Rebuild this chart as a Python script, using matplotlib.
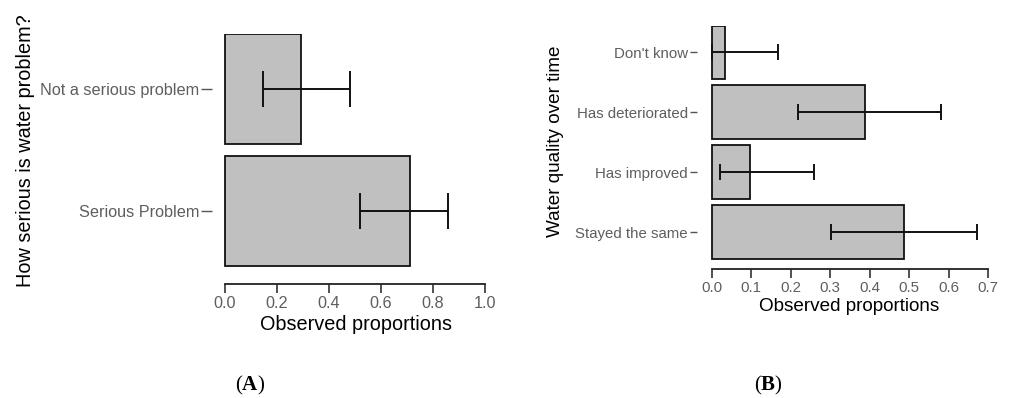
import matplotlib
matplotlib.use("Agg")
import matplotlib.pyplot as plt
import numpy as np

plt.rcParams['font.family'] = ['Liberation Sans', 'DejaVu Sans']
plt.rcParams['mathtext.fontset'] = 'custom'
plt.rcParams['mathtext.rm'] = 'Liberation Serif'
plt.rcParams['mathtext.bf'] = 'Liberation Serif:bold'

# Panel A data
cats_a = ["Serious Problem", "Not a serious problem"]
prop_a = [0.712, 0.292]
lo_a = [0.52, 0.145]
hi_a = [0.858, 0.481]
xticks_a = [0.0, 0.2, 0.4, 0.6, 0.8, 1.0]

# Panel B data
cats_b = ["Stayed the same", "Has improved", "Has deteriorated", "Don't know"]
prop_b = [0.486, 0.098, 0.389, 0.034]
lo_b = [0.302, 0.021, 0.219, 0.002]
hi_b = [0.672, 0.259, 0.579, 0.168]
xticks_b = [0.0, 0.1, 0.2, 0.3, 0.4, 0.5, 0.6, 0.7]

W, H = 1009, 398
fig = plt.figure(figsize=(W / 100, H / 100), dpi=100)

def px_axes(left, right, bottom, top):
    return fig.add_axes([left / W, 1 - bottom / H, (right - left) / W, (bottom - top) / H])

bar_color = "#c0c0c0"
tick_gray = "#5e5e5e"

def style(ax, cats, props, lo, hi, xticks, xlim, ylim, tick_fs, label_fs, ylabel, capsize,
          ytick_len, ylab_xy, xlab_xy):
    y = np.arange(len(cats))
    props = np.array(props); lo = np.array(lo); hi = np.array(hi)
    ax.barh(y, props, height=0.9, color=bar_color, edgecolor="#111111", linewidth=1.3, zorder=2)
    ax.errorbar(props, y, xerr=[props - lo, hi - props], fmt='none', ecolor="#111111",
                elinewidth=1.4, capsize=capsize, capthick=1.4, zorder=3)
    ax.set_xlim(*xlim)
    ax.set_ylim(*ylim)
    ax.set_yticks(y)
    ax.set_yticklabels(cats, fontsize=tick_fs, color=tick_gray)
    ax.set_xticks(xticks)
    ax.set_xticklabels([f"{t:.1f}" for t in xticks], fontsize=tick_fs, color=tick_gray)
    for s in ["top", "right", "left"]:
        ax.spines[s].set_visible(False)
    ax.spines["bottom"].set_bounds(xticks[0], xticks[-1])
    ax.spines["bottom"].set_linewidth(1.3)
    ax.spines["bottom"].set_color("#222222")
    ax.tick_params(axis="y", length=ytick_len, width=1.0, color="#555555", pad=1.5)
    ax.tick_params(axis="x", length=6.5, width=1.1, color="#222222", pad=2.5)
    ax.set_xlabel("Observed proportions", fontsize=label_fs, color="black")
    ax.set_ylabel(ylabel, fontsize=label_fs, color="black")
    ax.xaxis.set_label_coords(xlab_xy[0] / W, 1 - xlab_xy[1] / H, transform=fig.transFigure)
    ax.xaxis.label.set_va("center")
    ax.yaxis.set_label_coords(ylab_xy[0] / W, 1 - ylab_xy[1] / H, transform=fig.transFigure)
    ax.yaxis.label.set_va("center")

# Panel A: x=0 at px 225, 260 px/unit; y=0 at px 211, 122 px/unit
axA = px_axes(212, 225 + 1.02 * 260, 284, 211 - 1.45 * 122)
style(axA, cats_a, prop_a, lo_a, hi_a, xticks_a, (-0.05, 1.02), (-0.598, 1.45),
      11.7, 14.3, "How serious is water problem?", 13, 7.6, (26, 151), (356, 325))

# Panel B: x=0 at px 711.7, 395.2 px/unit; y=0 at px 232.5, 60 px/unit
axB = px_axes(697, 711.7 + 0.72 * 395.2, 269, 232.5 - 3.45 * 60)
style(axB, cats_b, prop_b, lo_b, hi_b, xticks_b, (-0.037, 0.72), (-0.61, 3.45),
      10.8, 13.6, "Water quality over time", 6, 5.2, (556, 141.5), (849, 306.5))

fig.text(250 / W, 1 - 385 / H, r"($\mathbf{A}$)", family="Liberation Serif", fontsize=15,
         ha="center", va="center")
fig.text(768 / W, 1 - 385 / H, r"($\mathbf{B}$)", family="Liberation Serif", fontsize=15,
         ha="center", va="center")

fig.savefig("out.png", dpi=100)
